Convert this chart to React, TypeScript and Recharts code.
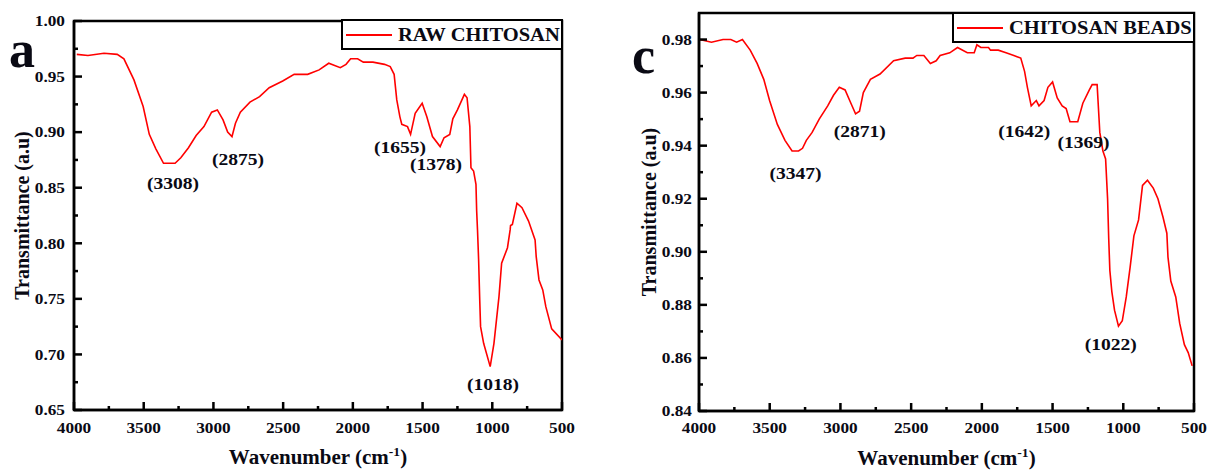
import React from "react";
import { LineChart, Line, XAxis, YAxis, ReferenceArea, ReferenceDot, Legend } from "recharts";

const FONT = '"Liberation Serif", "Times New Roman", serif';
const RED = "#ff0000";
const INK = "#0a0a14";

// panel a: raw chitosan
const rawWn = [
  3980, 3900, 3785, 3690, 3642, 3570, 3504, 3460, 3413, 3358, 3275, 3234, 3179, 3124, 3068, 3013,
  2972, 2931, 2898, 2867, 2842, 2807, 2738, 2669, 2600, 2503, 2421, 2324, 2242, 2173, 2090, 2049,
  2016, 1966, 1925, 1856, 1773, 1732, 1704, 1685, 1663, 1649, 1608, 1586, 1553, 1503, 1470, 1429,
  1374, 1346, 1305, 1283, 1250, 1200, 1181, 1161, 1153, 1134, 1117, 1112, 1106, 1098, 1090, 1084,
  1062, 1015, 988, 952, 933, 891, 872, 869, 856, 823, 787, 740, 693, 685, 665, 638, 616, 574, 500,
];
const rawT = [
  0.97, 0.969, 0.971, 0.97, 0.966, 0.947, 0.923, 0.898, 0.885, 0.872, 0.872, 0.877, 0.886, 0.897,
  0.905, 0.918, 0.92, 0.911, 0.9, 0.896, 0.908, 0.918, 0.927, 0.932, 0.94, 0.946, 0.952, 0.952,
  0.956, 0.962, 0.958, 0.961, 0.966, 0.966, 0.963, 0.963, 0.961, 0.959, 0.952, 0.929, 0.914, 0.907,
  0.905, 0.898, 0.917, 0.926, 0.914, 0.896, 0.887, 0.895, 0.898, 0.912, 0.92, 0.934, 0.931, 0.905,
  0.868, 0.865, 0.853, 0.829, 0.812, 0.785, 0.749, 0.725, 0.71, 0.689, 0.71, 0.752, 0.782, 0.796,
  0.812, 0.816, 0.817, 0.836, 0.832, 0.82, 0.803, 0.788, 0.767, 0.758, 0.743, 0.723, 0.713,
];

// panel c: chitosan beads
const beadsWn = [
  3995, 3912, 3830, 3775, 3734, 3693, 3638, 3589, 3542, 3501, 3446, 3392, 3342, 3296, 3268, 3241,
  3200, 3150, 3090, 3049, 3008, 2967, 2926, 2893, 2865, 2838, 2788, 2720, 2624, 2542, 2487, 2460,
  2410, 2364, 2323, 2295, 2227, 2172, 2103, 2054, 2035, 2007, 1953, 1939, 1884, 1829, 1774, 1725,
  1698, 1678, 1651, 1615, 1596, 1560, 1533, 1500, 1467, 1432, 1404, 1377, 1322, 1286, 1240, 1220,
  1185, 1166, 1144, 1125, 1111, 1103, 1095, 1081, 1062, 1034, 1007, 979, 952, 925, 892, 864, 829,
  788, 755, 719, 692, 684, 664, 629, 601, 568, 541, 513,
];
const beadsT = [
  0.98, 0.979, 0.98, 0.98, 0.979, 0.98, 0.976, 0.971, 0.965, 0.957, 0.948, 0.942, 0.938, 0.938,
  0.939, 0.942, 0.945, 0.95, 0.955, 0.959, 0.962, 0.961, 0.956, 0.952, 0.953, 0.96, 0.965, 0.967,
  0.972, 0.973, 0.973, 0.974, 0.974, 0.971, 0.972, 0.974, 0.975, 0.977, 0.975, 0.975, 0.978, 0.977,
  0.977, 0.976, 0.976, 0.975, 0.974, 0.973, 0.968, 0.962, 0.955, 0.957, 0.955, 0.957, 0.962, 0.964,
  0.958, 0.955, 0.954, 0.949, 0.949, 0.956, 0.961, 0.963, 0.963, 0.945, 0.938, 0.935, 0.92, 0.905,
  0.893, 0.885, 0.878, 0.872, 0.874, 0.883, 0.894, 0.906, 0.912, 0.925, 0.927, 0.924, 0.92, 0.913,
  0.907, 0.898, 0.889, 0.883, 0.873, 0.865, 0.862, 0.857,
];

const xMajor = [4000, 3500, 3000, 2500, 2000, 1500, 1000, 500];
const xMinor = [3750, 3250, 2750, 2250, 1750, 1250, 750];
const rawYMajor = [0.65, 0.7, 0.75, 0.8, 0.85, 0.9, 0.95, 1.0];
const rawYMinor = [0.675, 0.725, 0.775, 0.825, 0.875, 0.925, 0.975];
const beadsYMajor = [0.84, 0.86, 0.88, 0.9, 0.92, 0.94, 0.96, 0.98];
const beadsYMinor = [0.85, 0.87, 0.89, 0.91, 0.93, 0.95, 0.97];

// peak labels: [text, wavenumber, transmittance at label centre]
const rawPeaks: [string, number, number][] = [
  ["(3308)", 3290, 0.8546],
  ["(2875)", 2824, 0.876],
  ["(1655)", 1662, 0.887],
  ["(1378)", 1404, 0.8716],
  ["(1018)", 995, 0.6733],
];
const beadsPeaks: [string, number, number][] = [
  ["(3347)", 3318, 0.9296],
  ["(2871)", 2864, 0.9454],
  ["(1642)", 1700, 0.9454],
  ["(1369)", 1281, 0.9412],
  ["(1022)", 1089, 0.8652],
];

const toRows = (wn: number[], t: number[]) => wn.map((w, i) => ({ wn: w, t: t[i] }));

// the source figure is slightly stretched sideways, so text gets a small x scale
const Wide = ({ x, y, sx = 1.15, children, ...rest }: any) => (
  <g transform={`translate(${x},${y}) scale(${sx},1)`}>
    <text x={0} y={0} fontFamily={FONT} fontWeight="bold" fill={INK} {...rest}>
      {children}
    </text>
  </g>
);

const YTick = ({ y, payload, axisX, gap }: any) => (
  <Wide x={axisX - gap} y={y} dy="0.35em" textAnchor="end" fontSize={15}>
    {payload.value.toFixed(2)}
  </Wide>
);

const XTick = ({ x, payload, axisY, gap }: any) => (
  <Wide x={x} y={axisY + gap} dy="0.71em" textAnchor="middle" fontSize={15}>
    {payload.value}
  </Wide>
);

// inward tick marks, anchored on the axis by reference dots
const hTick = (len: number) => ({ cx, cy }: any) => (
  <rect x={cx} y={cy - 1.25} width={len} height={2.5} fill="#000" />
);
const vTick = (len: number) => ({ cx, cy }: any) => (
  <rect x={cx - 1.25} y={cy - len} width={2.5} height={len} fill="#000" />
);

const XTitle = ({ viewBox }: any) => {
  const cx = viewBox.x + viewBox.width / 2;
  return (
    <Wide x={cx} y={viewBox.y + 54} sx={1.05} textAnchor="middle" fontSize={20}>
      Wavenumber (cm
      <tspan fontSize={13} dy={-8}>-1</tspan>
      <tspan dy={8}>)</tspan>
    </Wide>
  );
};

const YTitle = ({ viewBox, cx }: any) => {
  const cy = viewBox.y + viewBox.height / 2;
  return (
    <text
      x={cx}
      y={cy}
      transform={`rotate(-90 ${cx} ${cy})`}
      textAnchor="middle"
      dy="0.35em"
      fontFamily={FONT}
      fontWeight="bold"
      fontSize={20}
      fill={INK}
    >
      Transmittance (a.u)
    </text>
  );
};

const PeakLabel = ({ viewBox, text }: any) => (
  <Wide
    x={viewBox.x + viewBox.width / 2}
    y={viewBox.y + viewBox.height / 2}
    sx={1.15}
    dy="0.35em"
    textAnchor="middle"
    fontSize={17}
  >
    {text}
  </Wide>
);

const LegendBox = ({ name }: { name: string }) => (
  <div
    style={{
      boxSizing: "border-box",
      width: "100%",
      height: "100%",
      border: "2.5px solid #000",
      background: "#fff",
      display: "flex",
      alignItems: "center",
      paddingLeft: 3,
      fontFamily: FONT,
      fontWeight: "bold",
      fontSize: 19,
      color: INK,
      whiteSpace: "nowrap",
      overflow: "hidden",
    }}
  >
    <svg width={46} height={6} style={{ marginRight: 6, flex: "none" }}>
      <line x1={0} x2={46} y1={3} y2={3} stroke={RED} strokeWidth={2} />
    </svg>
    <span style={{ display: "inline-block", transform: "scaleX(1.08)", transformOrigin: "left center" }}>
      {name}
    </span>
  </div>
);

interface PanelProps {
  rows: { wn: number; t: number }[];
  name: string;
  letter: string;
  width: number;
  plotLeft: number;
  plotRight: number;
  plotTop: number;
  plotBottom: number;
  yDomain: [number, number];
  yMajor: number[];
  yMinor: number[];
  yGap: number;
  xGap: number;
  yTitleX: number;
  peaks: [string, number, number][];
  legend: { left: number; top: number; width: number; height: number };
  letterPos: { x: number; y: number };
}

const FRAME = { stroke: "#000", strokeWidth: 2.5 };

function Panel(p: PanelProps) {
  const H = 471;
  const yMin = p.yDomain[0];
  return (
    <div style={{ position: "relative", width: p.width, height: H }}>
      <LineChart
        width={p.width}
        height={H}
        data={p.rows}
        margin={{ top: p.plotTop, right: p.width - p.plotRight, bottom: 0, left: 0 }}
      >
        <XAxis
          dataKey="wn"
          type="number"
          domain={[500, 4000]}
          reversed
          allowDataOverflow
          ticks={xMajor}
          interval={0}
          height={H - p.plotBottom}
          tickLine={false}
          tickSize={0}
          tick={<XTick axisY={p.plotBottom} gap={p.xGap} />}
          axisLine={FRAME}
          label={{ content: <XTitle /> }}
        />
        <YAxis
          type="number"
          domain={p.yDomain}
          allowDataOverflow
          ticks={p.yMajor}
          interval={0}
          width={p.plotLeft}
          tickLine={false}
          tickSize={0}
          tick={<YTick axisX={p.plotLeft} gap={p.yGap} />}
          axisLine={FRAME}
          label={{ content: <YTitle cx={p.yTitleX} /> }}
        />
        <ReferenceArea
          x1={4000}
          x2={500}
          y1={p.yDomain[0]}
          y2={p.yDomain[1]}
          fill="none"
          fillOpacity={0}
          stroke="#000"
          strokeWidth={2.5}
          ifOverflow="visible"
        />
        {p.yMajor.map((v) => (
          <ReferenceDot key={`ym${v}`} x={4000} y={v} r={1} ifOverflow="visible" shape={hTick(8)} />
        ))}
        {p.yMinor.map((v) => (
          <ReferenceDot key={`yn${v}`} x={4000} y={v} r={1} ifOverflow="visible" shape={hTick(4)} />
        ))}
        {xMajor.map((v) => (
          <ReferenceDot key={`xm${v}`} x={v} y={yMin} r={1} ifOverflow="visible" shape={vTick(8)} />
        ))}
        {xMinor.map((v) => (
          <ReferenceDot key={`xn${v}`} x={v} y={yMin} r={1} ifOverflow="visible" shape={vTick(4)} />
        ))}
        <Line
          type="linear"
          dataKey="t"
          name={p.name}
          stroke={RED}
          strokeWidth={1.6}
          dot={false}
          isAnimationActive={false}
        />
        {p.peaks.map(([text, x, y]) => (
          <ReferenceDot
            key={text}
            x={x}
            y={y}
            r={0}
            fill="none"
            stroke="none"
            label={{ content: <PeakLabel text={text} /> }}
          />
        ))}
        <Legend
          layout="horizontal"
          verticalAlign="middle"
          align="center"
          wrapperStyle={{ ...p.legend, position: "absolute" }}
          content={() => <LegendBox name={p.name} />}
        />
      </LineChart>
      <div
        style={{
          position: "absolute",
          left: p.letterPos.x,
          top: p.letterPos.y,
          fontFamily: FONT,
          fontWeight: "bold",
          fontSize: 52,
          lineHeight: 1,
          color: INK,
        }}
      >
        {p.letter}
      </div>
    </div>
  );
}

export default function App() {
  return (
    <div
      style={{
        position: "absolute",
        left: 0,
        top: 0,
        width: 1216,
        height: 471,
        background: "#fff",
        display: "flex",
      }}
    >
      <Panel
        rows={toRows(rawWn, rawT)}
        name="RAW CHITOSAN"
        letter="a"
        width={608}
        plotLeft={74}
        plotRight={562}
        plotTop={21}
        plotBottom={410}
        yDomain={[0.65, 1.0]}
        yMajor={rawYMajor}
        yMinor={rawYMinor}
        yGap={9}
        xGap={12}
        yTitleX={22}
        peaks={rawPeaks}
        legend={{ left: 341, top: 19, width: 222, height: 31 }}
        letterPos={{ x: 9, y: 24 }}
      />
      <Panel
        rows={toRows(beadsWn, beadsT)}
        name="CHITOSAN BEADS"
        letter="c"
        width={608}
        plotLeft={91}
        plotRight={586}
        plotTop={13}
        plotBottom={411}
        yDomain={[0.84, 0.99]}
        yMajor={beadsYMajor}
        yMinor={beadsYMinor}
        yGap={7}
        xGap={11}
        yTitleX={41}
        peaks={beadsPeaks}
        legend={{ left: 344, top: 12, width: 243, height: 31 }}
        letterPos={{ x: 24, y: 30 }}
      />
    </div>
  );
}
